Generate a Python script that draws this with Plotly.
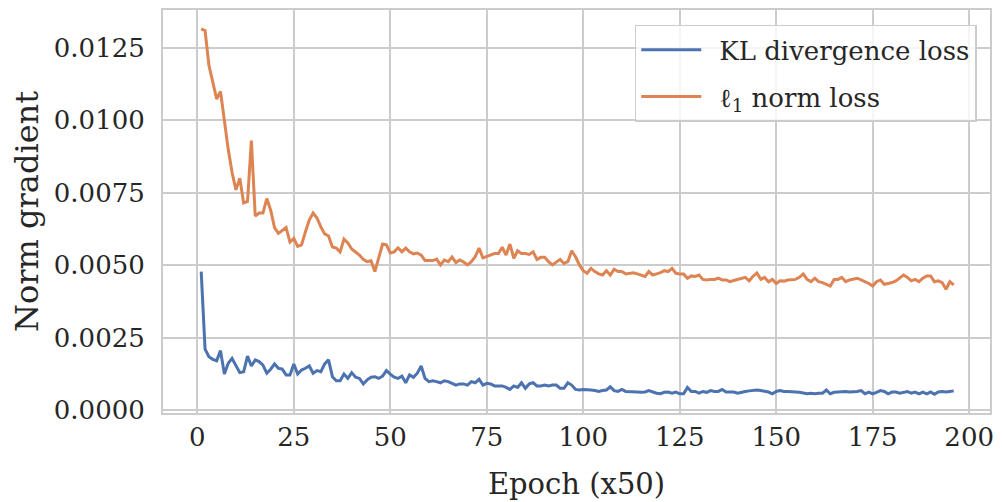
import plotly.graph_objects as go

epochs = list(range(1, 197))

kl_loss = [
    0.00478, 0.00210, 0.00184, 0.00175, 0.00170, 0.00205, 0.00124, 0.00161, 0.00178, 0.00155,
    0.00129, 0.00132, 0.00186, 0.00152, 0.00173, 0.00167, 0.00155, 0.00127, 0.00141, 0.00159,
    0.00144, 0.00141, 0.00121, 0.00121, 0.00159, 0.00124, 0.00138, 0.00144, 0.00152, 0.00127,
    0.00136, 0.00132, 0.00159, 0.00173, 0.00115, 0.00101, 0.00101, 0.00124, 0.00109, 0.00129,
    0.00113, 0.00109, 0.00090, 0.00104, 0.00113, 0.00115, 0.00109, 0.00117, 0.00136, 0.00124,
    0.00113, 0.00109, 0.00117, 0.00094, 0.00121, 0.00113, 0.00127, 0.00152, 0.00109, 0.00098,
    0.00101, 0.00098, 0.00094, 0.00101, 0.00098, 0.00092, 0.00086, 0.00090, 0.00090, 0.00086,
    0.00098, 0.00094, 0.00106, 0.00086, 0.00092, 0.00090, 0.00083, 0.00083, 0.00083, 0.00078,
    0.00071, 0.00083, 0.00078, 0.00094, 0.00075, 0.00090, 0.00094, 0.00083, 0.00083, 0.00086,
    0.00083, 0.00086, 0.00086, 0.00075, 0.00075, 0.00094, 0.00086, 0.00071, 0.00069, 0.00071,
    0.00071, 0.00069, 0.00067, 0.00064, 0.00067, 0.00069, 0.00080, 0.00067, 0.00064, 0.00071,
    0.00064, 0.00064, 0.00062, 0.00062, 0.00061, 0.00062, 0.00067, 0.00062, 0.00058, 0.00056,
    0.00061, 0.00062, 0.00058, 0.00062, 0.00056, 0.00056, 0.00078, 0.00064, 0.00064, 0.00058,
    0.00064, 0.00061, 0.00067, 0.00064, 0.00064, 0.00071, 0.00062, 0.00062, 0.00062, 0.00058,
    0.00062, 0.00064, 0.00066, 0.00067, 0.00069, 0.00067, 0.00064, 0.00062, 0.00056, 0.00064,
    0.00067, 0.00064, 0.00064, 0.00062, 0.00062, 0.00061, 0.00058, 0.00056, 0.00058, 0.00056,
    0.00058, 0.00058, 0.00069, 0.00056, 0.00061, 0.00062, 0.00062, 0.00064, 0.00062, 0.00062,
    0.00064, 0.00067, 0.00056, 0.00062, 0.00056, 0.00061, 0.00067, 0.00064, 0.00056, 0.00062,
    0.00062, 0.00058, 0.00062, 0.00064, 0.00058, 0.00062, 0.00056, 0.00062, 0.00056, 0.00062,
    0.00054, 0.00062, 0.00064, 0.00062, 0.00064, 0.00066,
]

l1_loss = [
    0.01316, 0.01310, 0.01190, 0.01136, 0.01074, 0.01100, 0.01000, 0.00900, 0.00820, 0.00760,
    0.00800, 0.00715, 0.00720, 0.00930, 0.00670, 0.00680, 0.00680, 0.00730, 0.00690, 0.00630,
    0.00610, 0.00620, 0.00630, 0.00580, 0.00592, 0.00565, 0.00570, 0.00615, 0.00656, 0.00680,
    0.00663, 0.00632, 0.00608, 0.00601, 0.00563, 0.00559, 0.00546, 0.00590, 0.00577, 0.00556,
    0.00546, 0.00535, 0.00520, 0.00512, 0.00515, 0.00478, 0.00525, 0.00573, 0.00570, 0.00542,
    0.00546, 0.00560, 0.00546, 0.00559, 0.00546, 0.00539, 0.00542, 0.00535, 0.00516, 0.00515,
    0.00516, 0.00521, 0.00501, 0.00518, 0.00512, 0.00528, 0.00509, 0.00518, 0.00511, 0.00501,
    0.00512, 0.00529, 0.00559, 0.00525, 0.00530, 0.00536, 0.00540, 0.00540, 0.00562, 0.00535,
    0.00573, 0.00524, 0.00550, 0.00540, 0.00540, 0.00537, 0.00546, 0.00520, 0.00527, 0.00527,
    0.00512, 0.00501, 0.00512, 0.00520, 0.00506, 0.00512, 0.00550, 0.00529, 0.00501, 0.00481,
    0.00472, 0.00489, 0.00478, 0.00470, 0.00466, 0.00481, 0.00466, 0.00486, 0.00478, 0.00478,
    0.00470, 0.00472, 0.00474, 0.00470, 0.00466, 0.00461, 0.00478, 0.00466, 0.00470, 0.00474,
    0.00481, 0.00478, 0.00489, 0.00472, 0.00470, 0.00470, 0.00455, 0.00463, 0.00461, 0.00466,
    0.00451, 0.00449, 0.00451, 0.00451, 0.00455, 0.00449, 0.00449, 0.00443, 0.00447, 0.00451,
    0.00455, 0.00458, 0.00446, 0.00462, 0.00473, 0.00451, 0.00458, 0.00443, 0.00451, 0.00437,
    0.00446, 0.00445, 0.00449, 0.00451, 0.00451, 0.00458, 0.00470, 0.00451, 0.00443, 0.00455,
    0.00443, 0.00440, 0.00434, 0.00428, 0.00451, 0.00451, 0.00458, 0.00443, 0.00449, 0.00451,
    0.00455, 0.00449, 0.00443, 0.00437, 0.00428, 0.00443, 0.00449, 0.00434, 0.00437, 0.00440,
    0.00446, 0.00455, 0.00466, 0.00458, 0.00446, 0.00451, 0.00443, 0.00455, 0.00463, 0.00463,
    0.00443, 0.00446, 0.00440, 0.00417, 0.00443, 0.00432,
]

series_names = ["KL divergence loss", "ℓ<sub>1</sub> norm loss"]
x_ticks = [0, 25, 50, 75, 100, 125, 150, 175, 200]
y_ticks = [0.0, 0.0025, 0.005, 0.0075, 0.01, 0.0125]

FONT = "DejaVu Serif"
GRID = "#cccccc"
TEXT = "#262626"
GAP = "\u2002"  # en space: widens the gap between legend line and its label

fig = go.Figure()
fig.add_trace(go.Scatter(x=epochs, y=kl_loss, mode="lines", name=GAP + series_names[0],
                         legendgroup="a", line=dict(color="#4C72B0", width=3)))
fig.add_trace(go.Scatter(x=epochs, y=l1_loss, mode="lines", name=GAP + series_names[1],
                         legendgroup="b", line=dict(color="#DD8452", width=3)))

# page body has an 8px default margin; margins compensate so the plot area
# lands at x 163..990, y 10..413 in the window
fig.update_layout(
    width=1002, height=502,
    margin=dict(l=155, r=20, t=2, b=97),
    paper_bgcolor="white", plot_bgcolor="white",
    font=dict(family=FONT, size=26, color=TEXT),
    showlegend=True,
    legend=dict(x=0.984, y=0.963, xanchor="right", yanchor="top",
                bgcolor="rgba(255,255,255,0.8)", bordercolor=GRID, borderwidth=1.5,
                font=dict(family=FONT, size=26, color=TEXT),
                itemwidth=60, tracegroupgap=10, traceorder="grouped"),
    xaxis=dict(range=[-8.9, 205.4], tickvals=x_ticks, showgrid=True, gridcolor=GRID,
               gridwidth=1.8, zeroline=False, showline=True, linecolor=GRID, linewidth=2,
               mirror=True, ticks="", ticklabelstandoff=0, automargin=False,
               tickfont=dict(size=26),
               title=dict(text="Epoch (x50)", standoff=22, font=dict(size=29))),
    yaxis=dict(range=[-0.000104, 0.013812], tickvals=y_ticks, tickformat=".4f",
               showgrid=True, gridcolor=GRID, gridwidth=1.8, zeroline=False,
               showline=True, linecolor=GRID, linewidth=2, mirror=True, ticks="",
               ticklabelstandoff=11, automargin=False, tickfont=dict(size=26),
               title=dict(text="Norm gradient", standoff=8, font=dict(size=32))),
)

fig.write_html("out.html")
